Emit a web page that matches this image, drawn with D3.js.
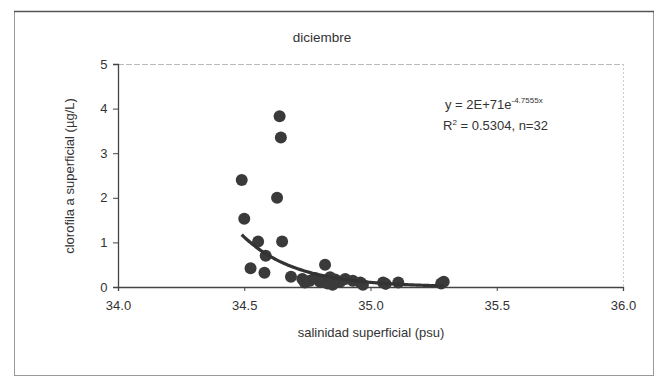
<!DOCTYPE html>
<html><head><meta charset="utf-8">
<script src="https://cdn.jsdelivr.net/npm/d3@7"></script>
<style>body{margin:0;background:#fff}svg{display:block;font-family:"Liberation Sans",Arial,sans-serif}</style>
</head><body>
<script>
const salinity = [34.49,34.50,34.64,34.645,34.63,34.65,34.555,34.525,34.58,34.585,34.685,34.82,34.73,34.74,34.76,34.78,34.80,34.81,34.83,34.84,34.85,34.86,34.88,34.90,34.93,34.96,34.97,35.05,35.06,35.11,35.29,35.28];
const chlorophyll = [2.40,1.53,3.83,3.35,2.00,1.02,1.02,0.42,0.32,0.70,0.23,0.50,0.18,0.10,0.14,0.20,0.12,0.15,0.08,0.22,0.05,0.17,0.12,0.18,0.14,0.10,0.05,0.10,0.07,0.10,0.12,0.08];
const xTicks = [34.0,34.5,35.0,35.5,36.0];
const yTicks = [0,1,2,3,4,5];
const trendA = 2e71, trendB = -4.7555;
const trendRange = [34.49, 35.29];

const W=657,H=379;
const svg=d3.select("body").append("svg").attr("width",W).attr("height",H);
svg.append("rect").attr("x",14.5).attr("y",11.5).attr("width",639).attr("height",364).attr("fill","#fff").attr("stroke","#999").attr("stroke-width",1);
svg.append("line").attr("x1",14).attr("x2",654).attr("y1",11.5).attr("y2",11.5).attr("stroke","#555").attr("stroke-width",1.5);

const x=d3.scaleLinear().domain([34,36]).range([118,623]);
const y=d3.scaleLinear().domain([0,5]).range([287,64]);

svg.append("line").attr("x1",118).attr("x2",623).attr("y1",64.5).attr("y2",64.5).attr("stroke","#bbb").attr("stroke-dasharray","6,2");
svg.append("line").attr("x1",623.5).attr("x2",623.5).attr("y1",64).attr("y2",287).attr("stroke","#ccc").attr("stroke-dasharray","2,2");

const xa=svg.append("g").attr("transform","translate(0,287)")
 .call(d3.axisBottom(x).tickValues(xTicks).tickFormat(d3.format(".1f")).tickSizeOuter(0).tickSize(4));
const ya=svg.append("g").attr("transform","translate(118,0)")
 .call(d3.axisLeft(y).tickValues(yTicks).tickFormat(d3.format("d")).tickSizeOuter(0).tickSize(5));
[xa,ya].forEach(g=>{g.select(".domain").attr("stroke","#444").attr("stroke-width",1.3);
 g.selectAll(".tick line").attr("stroke","#444");
 g.selectAll("text").attr("fill","#333").style("font-size","13px").style("font-family","'Liberation Sans',Arial,sans-serif");});
xa.selectAll("text").attr("dy","1.2em");
ya.selectAll("text").attr("dx","-0.2em");

svg.append("g").selectAll("circle").data(salinity.map((s,i)=>[s,chlorophyll[i]])).join("circle")
 .attr("cx",d=>x(d[0])).attr("cy",d=>y(d[1])).attr("r",6).attr("fill","#3a3a3a");

const tx=d3.range(0,101).map(i=>trendRange[0]+(trendRange[1]-trendRange[0])*i/100);
svg.append("path").datum(tx).attr("fill","none").attr("stroke","#333").attr("stroke-width",3.2)
 .attr("d",d3.line().x(d=>x(d)).y(d=>y(trendA*Math.exp(trendB*d))).curve(d3.curveBasis));

svg.append("text").attr("x",322).attr("y",42).attr("text-anchor","middle").style("font-size","13.5px").attr("fill","#333").text("diciembre");
svg.append("text").attr("transform","translate(74,176) rotate(-90)").attr("text-anchor","middle").style("font-size","13px").attr("fill","#333").text("clorofila a superficial (µg/L)");
svg.append("text").attr("x",371).attr("y",337).attr("text-anchor","middle").style("font-size","13px").attr("fill","#333").text("salinidad superficial (psu)");
const eq=svg.append("text").attr("x",445).attr("y",109).style("font-size","13px").attr("fill","#333");
eq.append("tspan").text("y = 2E+71e");
eq.append("tspan").attr("dy",-6).style("font-size","8px").text("-4.7555x");
const r2=svg.append("text").attr("x",443).attr("y",130).style("font-size","13px").attr("fill","#333");
r2.append("tspan").text("R");
r2.append("tspan").attr("dy",-5).style("font-size","8px").text("2");
r2.append("tspan").attr("dy",5).text(" = 0.5304, n=32");
</script>
</body></html>
